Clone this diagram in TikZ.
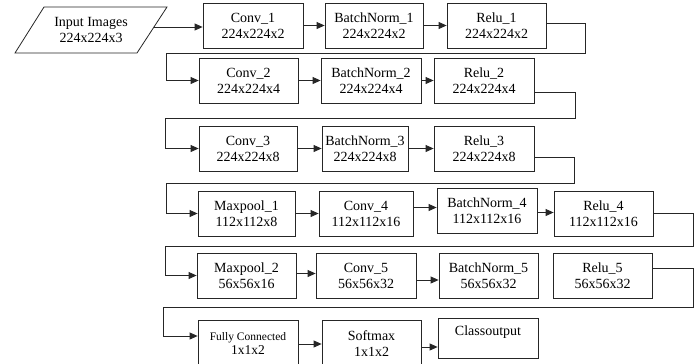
\documentclass[tikz,border=0pt]{standalone}
\usepackage{fontspec}
\setmainfont{Liberation Serif}
\usetikzlibrary{arrows.meta,calc}
\tikzset{
  box/.style={draw=black!85, line width=0.8pt, rectangle, inner sep=1pt, align=center,
              minimum width=99pt, minimum height=45pt, font=\fontsize{14}{16}\selectfont},
  arr/.style={draw=black!85, line width=0.8pt, -{Triangle[length=8pt,width=7pt]}},
  ln/.style={draw=black!85, line width=0.8pt},
}
\begin{document}
\begin{tikzpicture}[x=1pt,y=-1pt]
\useasboundingbox (0,0) rectangle (699,364);
\clip (0,0) rectangle (699,364);
% input parallelogram
\node[align=center, inner sep=0pt, minimum width=123pt, minimum height=46pt,
      font=\fontsize{14}{16}\selectfont] (in) at (91,30) {Input Images\\224x224x3};
\draw[ln] ($(in.center)+(-76,23)$) -- ($(in.center)+(46,23)$) -- ($(in.center)+(76,-23)$)
          -- ($(in.center)+(-47,-23)$) -- cycle;
\coordinate (inout) at ($(in.center)+(63,-3)$);
% row 1
\node[box, minimum width=100pt] (c1) at (253,25.5) {Conv\_1\\224x224x2};
\node[box, minimum width=98pt] (b1) at (374,25.5) {BatchNorm\_1\\224x224x2};
\node[box] (r1) at (496.5,25.5) {Relu\_1\\224x224x2};
% row 2
\node[box] (c2) at (248.5,80.5) {Conv\_2\\224x224x4};
\node[box, minimum width=100pt] (b2) at (371,80.5) {BatchNorm\_2\\224x224x4};
\node[box, minimum width=100pt] (r2) at (484,80.5) {Relu\_2\\224x224x4};
% row 3
\node[box, minimum width=98pt] (c3) at (248,148.5) {Conv\_3\\224x224x8};
\node[box, minimum width=86pt] (b3) at (365,148.5) {BatchNorm\_3\\224x224x8};
\node[box, minimum width=100pt] (r3) at (484,148.5) {Relu\_3\\224x224x8};
% row 4
\node[box, minimum width=97pt] (m1) at (246.5,213.5) {Maxpool\_1\\112x112x8};
\node[box, minimum width=94pt] (c4) at (366,213.5) {Conv\_4\\112x112x16};
\node[box, minimum width=100pt] (b4) at (487,210.5) {BatchNorm\_4\\112x112x16};
\node[box] (r4) at (603.5,213.5) {Relu\_4\\112x112x16};
% row 5
\node[box] (m2) at (246.5,275.5) {Maxpool\_2\\56x56x16};
\node[box, minimum width=100pt] (c5) at (366,275.5) {Conv\_5\\56x56x32};
\node[box] (b5) at (488.5,275.5) {BatchNorm\_5\\56x56x32};
\node[box] (r5) at (602.5,275.5) {Relu\_5\\56x56x32};
% row 6
\node[box, minimum width=100pt, minimum height=48pt, font=\fontsize{11.5}{15}\selectfont] (fc) at (248,344) {Fully Connected\\[-1pt]{\fontsize{13.5}{15}\selectfont 1x1x2}};
\node[box, minimum height=48pt] (sm) at (371.5,344) {Softmax\\1x1x2};
\node[box, minimum width=100pt, minimum height=40pt, text depth=15pt] (co) at (488,338) {Classoutput};
% turn points
\coordinate (t1) at (585,53);  \coordinate (u1) at (166,53);
\coordinate (t2) at (575,118); \coordinate (u2) at (165,118);
\coordinate (t3) at (574,183); \coordinate (u3) at (166,183);
\coordinate (t4) at (693,246); \coordinate (u4) at (165,246);
\coordinate (t5) at (693,307); \coordinate (u5) at (163,307);
% connectors
\draw[arr] (inout) -- (inout -| c1.west);
\draw[arr] (c1) -- (b1);
\draw[arr] (b1) -- (r1);
\draw[arr] ([yshift=2pt]r1.east) -| (t1) -- (u1) |- (c2.west);
\draw[arr] (c2) -- (b2);
\draw[arr] (b2) -- (r2);
\draw[arr] ([yshift=-11.5pt]r2.east) -| (t2) -- (u2) |- (c3.west);
\draw[arr] (c3) -- (b3);
\draw[arr] (b3) -- (r3);
\draw[arr] ([yshift=-8.5pt]r3.east) -| (t3) -- (u3) |- (m1.west);
\draw[arr] (m1) -- (c4);
\draw[arr] ([yshift=6pt]c4.east) -- ([yshift=6pt]c4.east -| b4.west);
\draw[arr] ([yshift=-2pt]b4.east) -- ([yshift=-2pt]b4.east -| r4.west);
\draw[arr] (r4.east) -| (t4) -- (u4) |- (m2.west);
\draw[arr] ([yshift=2pt]m2.east) -- ([yshift=2pt]m2.east -| c5.west);
\draw[arr] ([yshift=-4.5pt]c5.east) -- ([yshift=-4.5pt]c5.east -| b5.west);
\draw[arr] ([yshift=7.5pt]r5.east) -| (t5) -- (u5) |- ([yshift=8pt]fc.west);
\draw[arr] (fc) -- (sm);
\draw[arr] ([yshift=-3pt]sm.east) -- ([yshift=-3pt]sm.east -| co.west);
\end{tikzpicture}
\end{document}
